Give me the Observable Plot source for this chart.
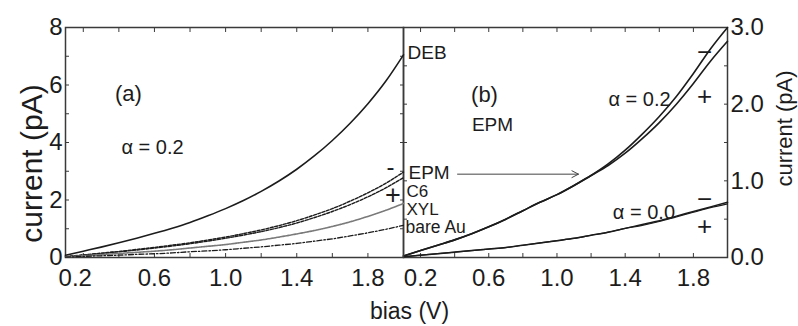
<!DOCTYPE html>
<html><head><meta charset="utf-8">
<script src="https://cdn.jsdelivr.net/npm/d3@7"></script>
<script src="https://cdn.jsdelivr.net/npm/@observablehq/plot@0.6"></script>
<style>
html,body{margin:0;padding:0;background:#fff;}
#wrap{position:relative;width:798px;height:326px;overflow:hidden;background:#fff;}
#wrap svg{position:absolute;left:0;top:0;overflow:visible;background:transparent;}
</style></head><body><div id="wrap"></div>
<script>
// bias (V)
const bias = [0.1,0.2,0.3,0.4,0.5,0.6,0.7,0.8,0.9,1.0,1.1,1.2,1.3,1.4,1.5,1.6,1.7,1.8,1.9,2.0];
// panel (a), alpha = 0.2, current (pA)
const debA   = [0.08,0.22,0.36,0.51,0.67,0.84,1.02,1.22,1.45,1.70,1.98,2.30,2.66,3.07,3.54,4.07,4.67,5.35,6.13,7.05];
const epmA   = [0.03,0.09,0.15,0.21,0.28,0.35,0.43,0.51,0.61,0.71,0.83,0.96,1.11,1.28,1.48,1.70,1.96,2.25,2.58,2.97];
const c6A    = [0.03,0.08,0.14,0.20,0.26,0.33,0.40,0.48,0.57,0.67,0.78,0.90,1.04,1.20,1.39,1.60,1.84,2.11,2.42,2.78];
const xylA   = [0.02,0.06,0.10,0.14,0.18,0.22,0.27,0.33,0.39,0.45,0.53,0.61,0.71,0.82,0.94,1.08,1.24,1.43,1.64,1.88];
const bareAuA= [0.01,0.04,0.06,0.08,0.11,0.13,0.16,0.20,0.23,0.27,0.32,0.37,0.43,0.49,0.57,0.65,0.75,0.86,0.98,1.12];
// panel (b), EPM, current (pA)
const b02minus = [0.02,0.09,0.16,0.23,0.31,0.40,0.50,0.61,0.72,0.82,0.94,1.07,1.22,1.40,1.61,1.84,2.10,2.40,2.72,3.00];
const b02plus  = [0.02,0.09,0.16,0.23,0.31,0.40,0.50,0.61,0.72,0.82,0.94,1.07,1.20,1.36,1.55,1.76,2.00,2.27,2.56,2.82];
const b00minus = [0.01,0.03,0.05,0.07,0.09,0.11,0.13,0.16,0.19,0.22,0.25,0.29,0.33,0.38,0.43,0.48,0.54,0.60,0.66,0.72];
const b00plus  = [0.01,0.03,0.05,0.07,0.09,0.11,0.13,0.16,0.19,0.22,0.25,0.29,0.33,0.38,0.42,0.47,0.53,0.59,0.65,0.70];
// ticks
const xMinorTicks = [0.2,0.4,0.6,0.8,1.0,1.2,1.4,1.6,1.8,2.0];
const xLabelTicks = [0.6,1.0,1.4,1.8];
const xFirstTick = [0.2];
const yTicksA = [0,2,4,6,8];
const yMinorA = [0,1,2,3,4,5,6,7,8];
const yTicksB = [0,1,2,3];
const yMinorB = [0,0.5,1,1.5,2,2.5,3];

const rows = (ys) => bias.map((b,i)=>({bias:b, current:ys[i]}));
const ink = "#1c1c1c";
const frameCol = "#3a3a3a";
const font = "Liberation Sans, Arial, sans-serif";

function commonAxes(yMinor) {
  return [
    Plot.axisX({anchor:"bottom", ticks:xMinorTicks, tickSize:4, dy:-4, text:null, label:null, stroke:frameCol}),
    Plot.axisX({anchor:"top", ticks:xMinorTicks, tickSize:4, dy:4, text:null, label:null, stroke:frameCol}),
    Plot.axisY({anchor:"left", ticks:yMinor, tickSize:4, dx:4, text:null, label:null, stroke:frameCol}),
    Plot.axisY({anchor:"right", ticks:yMinor, tickSize:4, dx:-4, text:null, label:null, stroke:frameCol}),
    Plot.axisX({anchor:"bottom", ticks:xLabelTicks, tickSize:0, tickPadding:11, fontSize:24, tickFormat:d3.format(".1f"), label:null, fill:ink}),
    Plot.frame({stroke:frameCol, strokeWidth:1.5})
  ];
}

const panelB = Plot.plot({
  width:798, height:326,
  marginLeft:403, marginRight:71, marginTop:27, marginBottom:69,
  x:{domain:[0.1,2.0]},
  y:{domain:[0,3]},
  style:{fontFamily:font, background:"transparent", overflow:"visible"},
  marks:[
    ...commonAxes(yMinorB),
    Plot.axisX({anchor:"bottom", ticks:xFirstTick, tickSize:0, tickPadding:11, fontSize:24, tickFormat:d3.format(".1f"), label:null, fill:ink}),
    Plot.axisY({anchor:"right", ticks:yTicksB, tickSize:0, tickPadding:3, fontSize:24, tickFormat:d3.format(".1f"), label:null, fill:ink}),
    Plot.line(rows(b02minus), {x:"bias", y:"current", stroke:ink, strokeWidth:1.6, curve:"monotone-x"}),
    Plot.line(rows(b02plus), {x:"bias", y:"current", stroke:ink, strokeWidth:1.6, curve:"monotone-x"}),
    Plot.line(rows(b00minus), {x:"bias", y:"current", stroke:ink, strokeWidth:1.5, curve:"monotone-x"}),
    Plot.line(rows(b00plus), {x:"bias", y:"current", stroke:ink, strokeWidth:1.2, curve:"monotone-x"}),
    Plot.arrow([0], {x1:0.417, y1:1.087, x2:1.126, y2:1.087, stroke:"#444", strokeWidth:1, headLength:11, headAngle:55}),
    Plot.text(["(b)"], {x:0.575, y:2.12, fontSize:22, fill:ink}),
    Plot.text(["EPM"], {x:0.622, y:1.73, fontSize:19, fill:ink}),
    Plot.text(["α = 0.2"], {x:1.484, y:2.06, fontSize:20, fill:ink}),
    Plot.text(["α = 0.0"], {x:1.51, y:0.59, fontSize:20, fill:ink}),
    Plot.text(["−"], {x:1.866, y:2.67, fontSize:26, fill:ink}),
    Plot.text(["+"], {x:1.866, y:2.10, fontSize:26, fill:ink}),
    Plot.text(["−"], {x:1.866, y:0.76, fontSize:26, fill:ink}),
    Plot.text(["+"], {x:1.866, y:0.40, fontSize:26, fill:ink}),
    Plot.text(["current (pA)"], {frameAnchor:"right", textAnchor:"middle", rotate:-90, dx:57, dy:-14, fontSize:22, fill:ink}),
    Plot.text(["bias (V)"], {frameAnchor:"bottom-left", textAnchor:"middle", dx:6, dy:61, fontSize:23, fill:ink})
  ]
});

const panelA = Plot.plot({
  width:798, height:326,
  marginLeft:65, marginRight:395, marginTop:27, marginBottom:69,
  x:{domain:[0.1,2.0]},
  y:{domain:[0,8]},
  style:{fontFamily:font, background:"transparent", overflow:"visible"},
  marks:[
    ...commonAxes(yMinorA),
    Plot.axisX({anchor:"bottom", ticks:xFirstTick, tickSize:0, tickPadding:11, dx:-8, fontSize:24, tickFormat:d3.format(".1f"), label:null, fill:ink}),
    Plot.axisY({anchor:"left", ticks:yTicksA, tickSize:0, tickPadding:3, fontSize:24, label:null, fill:ink}),
    Plot.line(rows(debA), {x:"bias", y:"current", stroke:ink, strokeWidth:1.6, curve:"monotone-x"}),
    Plot.line(rows(epmA), {x:"bias", y:"current", stroke:ink, strokeWidth:1.4, strokeDasharray:"3,1.5", curve:"monotone-x"}),
    Plot.line(rows(c6A), {x:"bias", y:"current", stroke:ink, strokeWidth:1.4, strokeDasharray:"3,1.5", curve:"monotone-x"}),
    Plot.line(rows(xylA), {x:"bias", y:"current", stroke:"#7a7a7a", strokeWidth:1.6, strokeDasharray:"1.5,0.8", curve:"monotone-x"}),
    Plot.line(rows(bareAuA), {x:"bias", y:"current", stroke:ink, strokeWidth:1.3, strokeDasharray:"5,2,1.5,2", curve:"monotone-x"}),
    Plot.text(["(a)"], {x:0.454, y:5.69, fontSize:22, fill:ink}),
    Plot.text(["α = 0.2"], {x:0.589, y:3.81, fontSize:20, fill:ink}),
    Plot.text(["-"], {x:1.927, y:3.14, fontSize:24, fill:ink}),
    Plot.text(["+"], {x:1.94, y:2.17, fontSize:27, fill:ink}),
    Plot.text(["DEB"], {x:2.0, y:7.13, dx:4, textAnchor:"start", fontSize:19, fill:ink}),
    Plot.text(["EPM"], {x:2.0, y:2.93, dx:5, textAnchor:"start", fontSize:19, fill:ink}),
    Plot.text(["C6"], {x:2.0, y:2.29, dx:3, textAnchor:"start", fontSize:17, fill:ink}),
    Plot.text(["XYL"], {x:2.0, y:1.67, dx:3, textAnchor:"start", fontSize:17, fill:ink}),
    Plot.text(["bare Au"], {x:2.0, y:1.03, dx:2, textAnchor:"start", fontSize:17.5, fill:ink}),
    Plot.text(["current (pA)"], {frameAnchor:"left", textAnchor:"middle", rotate:-90, dx:-33, dy:21, fontSize:30, fill:ink})
  ]
});

const wrap = document.getElementById("wrap");
wrap.appendChild(panelB);
wrap.appendChild(panelA);
</script>
</body></html>
